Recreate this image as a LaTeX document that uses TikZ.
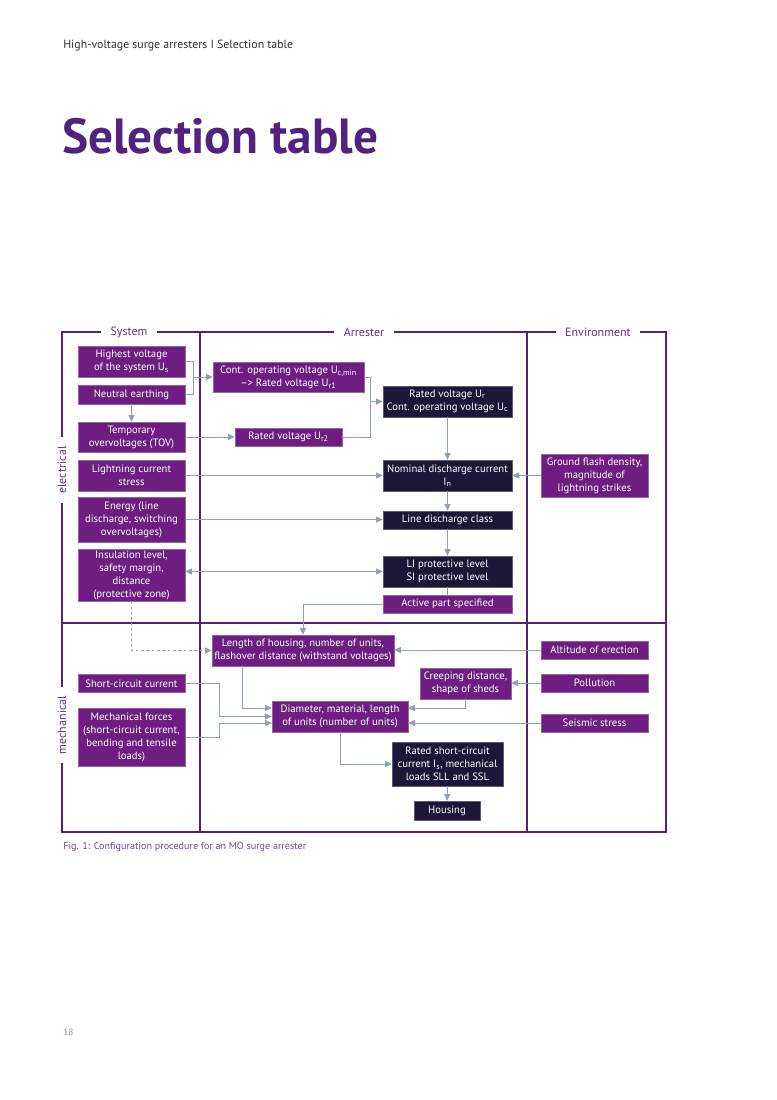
\documentclass[tikz,border=0pt]{standalone}
\usepackage{fontspec}
\setmainfont{PT Sans}
\usetikzlibrary{arrows.meta,calc}

\definecolor{framepurple}{RGB}{80,34,120}
\definecolor{titlepurple}{RGB}{80,35,127}
\definecolor{boxpurple}{RGB}{110,30,128}
\definecolor{boxdark}{RGB}{30,22,55}
\definecolor{linkgray}{RGB}{140,163,176}
\definecolor{labelpurple}{RGB}{95,55,135}
\definecolor{capturple}{RGB}{120,70,155}
\definecolor{pagegray}{RGB}{140,160,190}

\tikzset{
  frame/.style={draw=framepurple,line width=1.5pt},
  sysbox/.style={fill=boxpurple,draw=boxpurple!70!white,line width=0.3pt,text=white,align=center,inner sep=0pt,font=\fontsize{8}{9.75}\selectfont},
  arrbox/.style={sysbox,fill=boxdark,draw=boxdark!70!white},
  colhead/.style={fill=white,text=labelpurple,inner xsep=7pt,inner ysep=1pt,font=\fontsize{9}{10}\selectfont},
  rowhead/.style={colhead,rotate=90},
  link/.style={draw=linkgray,line width=0.75pt},
  conn/.style={link,-{Triangle[length=5pt,width=4.5pt]}},
  dconn/.style={link,{Triangle[length=5pt,width=4.5pt]}-{Triangle[length=5pt,width=4.5pt]}},
  pagetext/.style={anchor=west,inner sep=0pt},
}

\begin{document}
\begin{tikzpicture}[x=0.75pt,y=0.75pt,yscale=-1,xscale=1]
\path[fill=white] (0,0) rectangle (777,1100); %page

% Text Node
\node[pagetext,text=black!80,font=\fontsize{8.9}{10}\selectfont] (runhead) at (63,46) {High-voltage surge arresters I Selection table};
% Text Node
\node[pagetext,anchor=base west,text=titlepurple,font=\fontsize{37}{40}\selectfont\bfseries] (title) at (62,153) {Selection table};

%Shape: Frame
\draw[frame] (62,332) rectangle (666,832);
\draw[frame] (200,332) -- (200,832);
\draw[frame] (527,332) -- (527,832);
\draw[frame] (62,623) -- (666,623);

% Text Node
\node[colhead] (sys) at (129,332) {System};
\node[colhead] (arr) at (364,332) {Arrester};
\node[colhead] (env) at (598,332) {Environment};
\node[rowhead] (elec) at (62,470) {electrical};
\node[rowhead] (mech) at (62,725) {mechanical};

%Shape: System column
\node[sysbox,minimum width=80.25pt,minimum height=23.25pt] (hv) at (131.5,361.5) {Highest voltage\\of the system U\textsubscript{s}};
\node[sysbox,minimum width=80.25pt,minimum height=14.25pt] (ne) at (131.5,394.5) {Neutral earthing};
\node[sysbox,minimum width=80.25pt,minimum height=22.5pt] (tov) at (131.5,437) {Temporary\\overvoltages (TOV)};
\node[sysbox,minimum width=80.25pt,minimum height=23.25pt] (lcs) at (131.5,475.5) {Lightning current\\stress};
\node[sysbox,minimum width=80.25pt,minimum height=33.75pt] (en) at (131.5,519.5) {Energy (line\\discharge, switching\\overvoltages)};
\node[sysbox,minimum width=80.25pt,minimum height=39pt] (ins) at (131.5,575) {Insulation level,\\safety margin,\\distance\\(protective zone)};
\node[sysbox,minimum width=80.25pt,minimum height=13.5pt] (scc) at (131.5,683.5) {Short-circuit current};
\node[sysbox,minimum width=80.25pt,minimum height=43.5pt] (mf) at (131.5,737) {Mechanical forces\\(short-circuit current,\\bending and tensile\\loads)};

%Shape: Arrester column
\node[sysbox,minimum width=113.25pt,minimum height=22.5pt] (cov) at (288.5,377) {Cont. operating voltage U\textsubscript{c,min}\\--{}> Rated voltage U\textsubscript{r1}};
\node[sysbox,minimum width=80.25pt,minimum height=13.5pt] (urtwo) at (288.5,437) {Rated voltage U\textsubscript{r2}};
\node[arrbox,minimum width=96.75pt,minimum height=23.25pt] (ur) at (447.5,401.5) {Rated voltage U\textsubscript{r}\\Cont. operating voltage U\textsubscript{c}};
\node[arrbox,minimum width=96.75pt,minimum height=23.25pt] (ndc) at (447.5,475.5) {Nominal discharge current\\I\textsubscript{n}};
\node[arrbox,minimum width=96.75pt,minimum height=13.5pt] (ldc) at (447.5,520) {Line discharge class};
\node[arrbox,minimum width=96.75pt,minimum height=23.25pt] (lipl) at (447.5,571.5) {LI protective level\\SI protective level};
\node[sysbox,minimum width=96.75pt,minimum height=13.5pt] (aps) at (447.5,604) {Active part specified};
\node[sysbox,minimum width=136.5pt,minimum height=23.25pt] (len) at (303,650.5) {Length of housing, number of units,\\flashover distance (withstand voltages)};
\node[sysbox,minimum width=68.25pt,minimum height=23.25pt] (crp) at (465.5,683.5) {Creeping distance,\\shape of sheds};
\node[sysbox,minimum width=102pt,minimum height=23.25pt] (dia) at (340,716.5) {Diameter, material, length\\of units (number of units)};
\node[arrbox,minimum width=83.25pt,minimum height=33pt] (rsc) at (447.5,764) {Rated short-circuit\\current I\textsubscript{s}, mechanical\\loads SLL and SSL};
\node[arrbox,minimum width=49.5pt,minimum height=14.25pt] (hsg) at (447,810.5) {Housing};

%Shape: Environment column
\node[sysbox,minimum width=80.25pt,minimum height=32.25pt] (gfd) at (594.5,475.5) {Ground flash density,\\magnitude of\\lightning strikes};
\node[sysbox,minimum width=80.25pt,minimum height=13.5pt] (alt) at (594.5,650) {Altitude of erection};
\node[sysbox,minimum width=80.25pt,minimum height=13.5pt] (pol) at (594.5,683) {Pollution};
\node[sysbox,minimum width=80.25pt,minimum height=13.5pt] (seis) at (594.5,723) {Seismic stress};

%Straight Lines: electrical
\coordinate (jhv) at (193,377);
\draw[link] (hv.east) -| (jhv);
\draw[link] (ne.east) -| (jhv);
\draw[conn] (jhv) -- (cov.west);
\draw[conn] (ne.south) -- (tov.north);
\draw[conn] (tov.east) -- (urtwo.west);
\coordinate (jur) at (370,401.5);
\draw[link] (cov.east) -| (jur);
\draw[link] (urtwo.east) -| (jur);
\draw[conn] (jur) -- (ur.west);
\draw[conn] (ur.south) -- (ndc.north);
\draw[conn] (lcs.east) -- (ndc.west);
\draw[conn] (gfd.west) -- (ndc.east);
\draw[conn] (ndc.south) -- (ldc.north);
\draw[conn] (en.east) -- (en.east -| ldc.west);
\draw[conn] (ldc.south) -- (lipl.north);
\draw[dconn] (ins.east |- lipl.west) -- (lipl.west);
\draw[link] (lipl.south) -- (aps.north);
\draw[conn] (aps.west) -| (len.north);

%Straight Lines: mechanical
\draw[conn,dash pattern=on 2pt off 2pt] (ins.south) |- (len.west);
\draw[conn] (alt.west) -- (alt.west -| len.east);
\draw[conn] ($(len.south west)+(31,0)$) |- ($(dia.west)+(0,-8.5)$);
\draw[conn] (scc.east) -| ($(dia.west)+(-52,0)$) -- (dia.west);
\draw[conn] (mf.east) -| ($(dia.west)+(-52,6.5)$) -- ($(dia.west)+(0,6.5)$);
\draw[conn] (crp.south) |- ($(dia.east)+(0,-8.5)$);
\draw[conn] (pol.west) -- (pol.west -| crp.east);
\draw[conn] (seis.west) -- (seis.west -| dia.east);
\draw[conn] (dia.south) |- (rsc.west);
\draw[conn] (rsc.south) -- (hsg.north);

% Text Node
\node[pagetext,text=capturple,font=\fontsize{7.6}{8}\selectfont] (cap) at (63,847) {Fig. 1: Configuration procedure for an MO surge arrester};
% Text Node
\node[pagetext,text=pagegray,font=\fontsize{7}{8}\selectfont] (pg) at (63,1032) {18};

\end{tikzpicture}
\end{document}
